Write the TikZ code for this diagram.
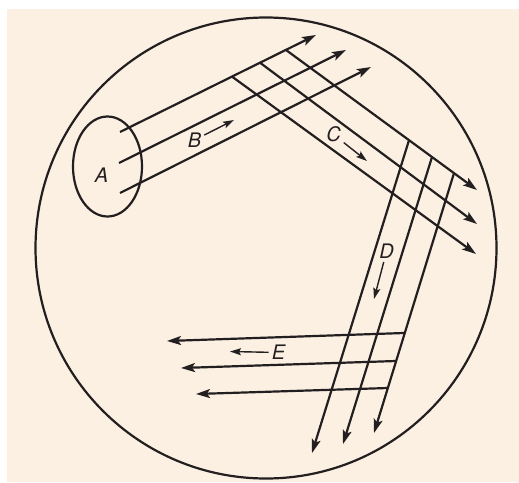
\documentclass[tikz,border=0pt]{standalone}
\usepackage{fontspec,tikz}
\usetikzlibrary{arrows.meta}
\setmainfont{TeX Gyre Heros}
\definecolor{paper}{RGB}{252,240,226}
\definecolor{ink}{RGB}{35,31,32}

\begin{document}
\begin{tikzpicture}[x=1pt,y=-1pt,
  beam/.style={draw=ink,line width=2.2pt,-{Stealth[length=14pt,width=9pt,inset=3pt]}},
  flowarrow/.style={draw=ink,line width=1.4pt,shorten <=1pt,-{Stealth[length=11pt,width=7pt,inset=2pt]}},
  letter/.style={inner sep=2pt,text=ink,font=\fontsize{20}{24}\selectfont\itshape}]
\path[use as bounding box] (0,0) rectangle (519,482);
\fill[paper] (7,9) rectangle (519,482);
% dish and source
\draw[ink,line width=2.2pt] (266,248) circle (230.5);
\draw[ink,line width=2.2pt] (107.5,166.5) ellipse (34.5 and 50);
% beam ends
\coordinate (b1s) at (120,132);
\coordinate (b1e) at (316,35);
\coordinate (b2s) at (119,163);
\coordinate (b2e) at (346,50);
\coordinate (b3s) at (120,193);
\coordinate (b3e) at (371,67);
\coordinate (c1s) at (232,76.6);
\coordinate (c1e) at (476,254);
\coordinate (c2s) at (260,62.7);
\coordinate (c2e) at (477,224);
\coordinate (c3s) at (286,50);
\coordinate (c3e) at (477,190);
\coordinate (d1s) at (409,140.2);
\coordinate (d1e) at (312,453);
\coordinate (d2s) at (432,157);
\coordinate (d2e) at (343,444);
\coordinate (d3s) at (454,173.1);
\coordinate (d3e) at (374,433);
\coordinate (e1s) at (404,333);
\coordinate (e1e) at (167,341);
\coordinate (e2s) at (396,361);
\coordinate (e2e) at (181,368);
\coordinate (e3s) at (388,388);
\coordinate (e3e) at (196,394);
% beams
\draw[beam] (b1s) -- (b1e);
\draw[beam] (b2s) -- (b2e);
\draw[beam] (b3s) -- (b3e);
\draw[beam] (c1s) -- (c1e);
\draw[beam] (c2s) -- (c2e);
\draw[beam] (c3s) -- (c3e);
\draw[beam] (d1s) -- (d1e);
\draw[beam] (d2s) -- (d2e);
\draw[beam] (d3s) -- (d3e);
\draw[beam] (e1s) -- (e1e);
\draw[beam] (e2s) -- (e2e);
\draw[beam] (e3s) -- (e3e);
% labels
\node[letter] (lblA) at (101.5,175.5) {A};
\node[letter] (lblB) at (194.5,140) {B};
\node[letter] (lblC) at (333.5,134.5) {C};
\node[letter] (lblD) at (386.5,251.5) {D};
\node[letter] (lblE) at (278.5,352.5) {E};
\coordinate (tipB) at (234,120);
\coordinate (tipC) at (367,161);
\coordinate (tipD) at (374,299);
\coordinate (tipE) at (230,351.5);
\draw[flowarrow] (lblB) -- (tipB);
\draw[flowarrow] (lblC) -- (tipC);
\draw[flowarrow] (lblD) -- (tipD);
\draw[flowarrow] (lblE) -- (tipE);
\end{tikzpicture}
\end{document}
